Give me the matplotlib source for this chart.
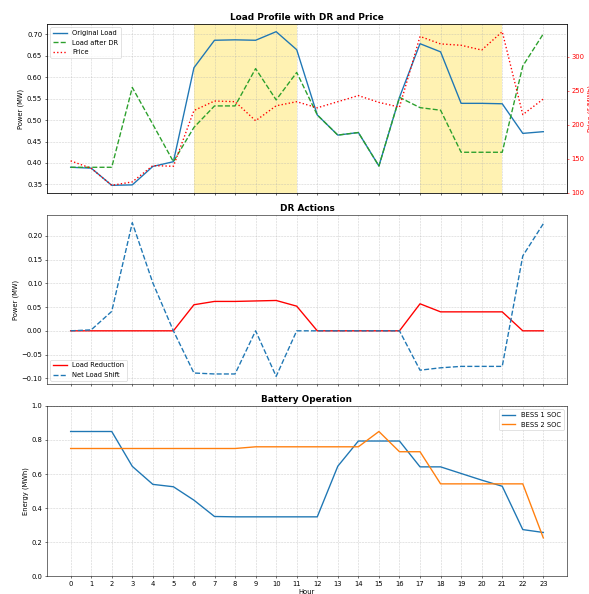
import numpy as np
import matplotlib
matplotlib.use("Agg")
import matplotlib.pyplot as plt

hours = list(range(24))

original_load = [0.390, 0.388, 0.348, 0.349, 0.392, 0.403, 0.622, 0.686, 0.687, 0.686,
                 0.706, 0.664, 0.512, 0.465, 0.471, 0.393, 0.553, 0.678, 0.659, 0.539,
                 0.539, 0.538, 0.469, 0.473]
load_after_dr = [0.390, 0.390, 0.390, 0.576, 0.490, 0.403, 0.483, 0.533, 0.533, 0.620,
                 0.547, 0.611, 0.512, 0.465, 0.471, 0.393, 0.553, 0.529, 0.523, 0.425,
                 0.425, 0.425, 0.626, 0.701]
price = [147, 136, 111, 116, 140, 139, 221, 235, 234, 206,
         228, 234, 225, 234, 243, 233, 226, 330, 319, 317,
         310, 337, 215, 238]

load_reduction = [0, 0, 0, 0, 0, 0, 0.055, 0.062, 0.062, 0.063,
                  0.064, 0.052, 0, 0, 0, 0, 0, 0.057, 0.040, 0.040,
                  0.040, 0.040, 0, 0]
net_load_shift = [0, 0.002, 0.041, 0.228, 0.101, 0, -0.089, -0.091, -0.091, 0,
                  -0.096, 0, 0, 0, 0, 0, 0, -0.083, -0.078, -0.075,
                  -0.075, -0.075, 0.158, 0.226]

bess1_soc = [0.85, 0.85, 0.85, 0.645, 0.539, 0.525, 0.446, 0.350, 0.348, 0.348,
             0.348, 0.348, 0.348, 0.646, 0.794, 0.794, 0.794, 0.642, 0.642, 0.603,
             0.564, 0.528, 0.273, 0.256]
bess2_soc = [0.75, 0.75, 0.75, 0.75, 0.75, 0.75, 0.75, 0.75, 0.75, 0.76,
             0.76, 0.76, 0.76, 0.76, 0.76, 0.85, 0.731, 0.731, 0.542, 0.542,
             0.542, 0.542, 0.542, 0.224]

peak_periods = [(6, 11), (17, 21)]

fig = plt.figure(figsize=(589 / 49, 594 / 49), dpi=49)
ax1 = fig.add_axes([0.0798, 0.6751, 0.8828, 0.2845])
ax2 = fig.add_axes([0.0798, 0.3535, 0.8828, 0.2845], sharex=ax1)
ax3 = fig.add_axes([0.0798, 0.0303, 0.8828, 0.2862], sharex=ax1)

# --- Load profile + price ---
for start, end in peak_periods:
    ax1.axvspan(start, end, color='gold', alpha=0.3, lw=0)
l1, = ax1.plot(hours, original_load, color='tab:blue', lw=2, label='Original Load')
l2, = ax1.plot(hours, load_after_dr, color='tab:green', ls='--', lw=2, label='Load after DR')
ax1.set_ylabel('Power (MW)')
ax1.set_title('Load Profile with DR and Price', fontsize=13, fontweight='bold')
ax1.grid(True, linestyle='--', alpha=0.6)
ax1_r = ax1.twinx()
l3, = ax1_r.plot(hours, price, color='red', ls=':', lw=2, label='Price')
ax1_r.set_ylabel('Price ($/MWh)', color='red')
ax1_r.tick_params(axis='y', colors='red')
ax1.legend(handles=[l1, l2, l3], loc='upper left')
ax1.tick_params(labelbottom=False)

# --- DR actions ---
ax2.plot(hours, load_reduction, color='red', lw=2, label='Load Reduction')
ax2.plot(hours, net_load_shift, color='tab:blue', ls='--', lw=2, label='Net Load Shift')
ax2.set_ylabel('Power (MW)')
ax2.set_title('DR Actions', fontsize=13, fontweight='bold')
ax2.grid(True, linestyle='--', alpha=0.6)
ax2.legend(loc='lower left')
ax2.tick_params(labelbottom=False)

# --- Battery ---
ax3.plot(hours, bess1_soc, color='tab:blue', lw=2, label='BESS 1 SOC')
ax3.plot(hours, bess2_soc, color='tab:orange', lw=2, label='BESS 2 SOC')
ax3.set_ylabel('Energy (MWh)')
ax3.set_xlabel('Hour')
ax3.set_title('Battery Operation', fontsize=13, fontweight='bold')
ax3.set_ylim(0, 1.0)
ax3.grid(True, linestyle='--', alpha=0.6)
ax3.legend(loc='upper right')
ax3.set_xticks(hours)

fig.savefig('out.png', dpi=49)
